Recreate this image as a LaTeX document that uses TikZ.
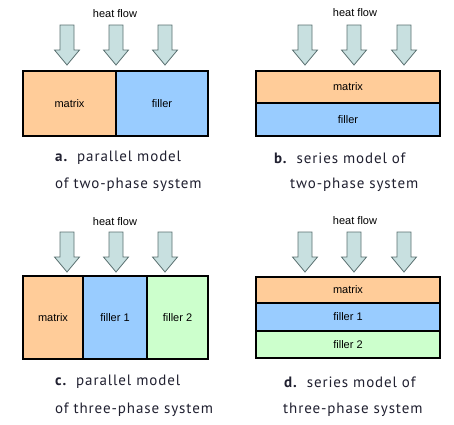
\documentclass[tikz,border=0pt]{standalone}
\usepackage{fontspec}
\setmainfont{Liberation Sans}
\newfontfamily\capfont[LetterSpace=6]{PT Sans}
\definecolor{matrixc}{HTML}{FFCC99}
\definecolor{fillerc}{HTML}{99CCFF}
\definecolor{fillertwo}{HTML}{CCFFCC}
\definecolor{arrowfill}{HTML}{C8E0E0}
\definecolor{arrowline}{HTML}{5A7070}
\definecolor{captext}{HTML}{202030}
\begin{document}
\begin{tikzpicture}[x=1pt,y=-1pt,
  region/.style={draw=black,line width=1.2pt,inner sep=0pt,outer sep=0pt,font=\fontsize{11}{13}\selectfont},
  hflabel/.style={font=\fontsize{11}{13}\selectfont,inner sep=0pt},
  caption/.style={font=\capfont\fontsize{15}{17}\selectfont,text=captext,inner sep=0pt,anchor=west},
  heatarrow/.pic={\draw[fill=arrowfill,draw=arrowline,line width=0.8pt]
     (-7,0) -- (7,0) -- (7,25) -- (12.5,25) -- (0,40) -- (-12.5,25) -- (-7,25) -- cycle;}
]
\useasboundingbox (0,0) rectangle (454,424);

% ---------- panel a ----------
\node[hflabel] (hfa) at (115,14) {heat flow};
\pic at (67,25) {heatarrow};
\pic at (116,25) {heatarrow};
\pic at (165,25) {heatarrow};
\node[region,fill=matrixc,minimum width=93pt,minimum height=65pt,anchor=north west] (amatrix) at (23,71) {matrix};
\node[region,fill=fillerc,minimum width=92pt,minimum height=65pt,anchor=north west] (afiller) at (116,71) {filler};
\node[caption] (capa1) at (55,158) {\textbf{a.}\, parallel model};
\node[caption] (capa2) at (55,185) {of two-phase system};

% ---------- panel b ----------
\node[hflabel] (hfb) at (355,13) {heat flow};
\pic at (305,25) {heatarrow};
\pic at (354,25) {heatarrow};
\pic at (404,25) {heatarrow};
\node[region,fill=matrixc,minimum width=184pt,minimum height=32pt,anchor=north west] (bmatrix) at (256,71) {matrix};
\node[region,fill=fillerc,minimum width=184pt,minimum height=33pt,anchor=north west] (bfiller) at (256,103) {filler};
\node[caption] (capb1) at (274,158) {\textbf{b.}\, series model of};
\node[caption] (capb2) at (290,185) {two-phase system};

% ---------- panel c ----------
\node[hflabel] (hfc) at (115,222) {heat flow};
\pic at (67,232) {heatarrow};
\pic at (116,232) {heatarrow};
\pic at (165,232) {heatarrow};
\node[region,fill=matrixc,minimum width=60pt,minimum height=83pt,anchor=north west] (cmatrix) at (23,276) {matrix};
\node[region,fill=fillerc,minimum width=64pt,minimum height=83pt,anchor=north west] (cfiller1) at (83,276) {filler 1};
\node[region,fill=fillertwo,minimum width=61pt,minimum height=83pt,anchor=north west] (cfiller2) at (147,276) {filler 2};
\node[caption] (capc1) at (55,382) {\textbf{c.}\, parallel model};
\node[caption] (capc2) at (55,410) {of three-phase system};

% ---------- panel d ----------
\node[hflabel] (hfd) at (355,221) {heat flow};
\pic at (305,232) {heatarrow};
\pic at (354,232) {heatarrow};
\pic at (404,232) {heatarrow};
\node[region,fill=matrixc,minimum width=184pt,minimum height=26pt,anchor=north west] (dmatrix) at (256,277) {matrix};
\node[region,fill=fillerc,minimum width=184pt,minimum height=28pt,anchor=north west] (dfiller1) at (256,303) {filler 1};
\node[region,fill=fillertwo,minimum width=184pt,minimum height=27pt,anchor=north west] (dfiller2) at (256,331) {filler 2};
\node[caption] (capd1) at (284,382) {\textbf{d.}\, series model of};
\node[caption] (capd2) at (283,410) {three-phase system};
\end{tikzpicture}
\end{document}
